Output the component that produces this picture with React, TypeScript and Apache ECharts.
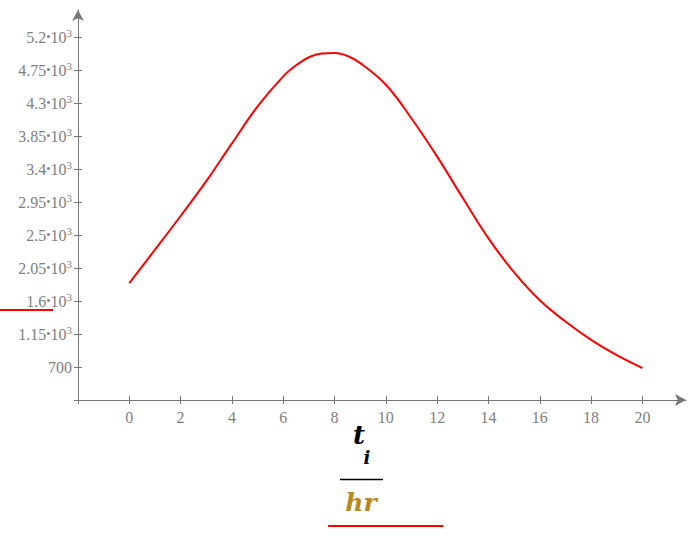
import React, { useEffect, useRef } from "react";
import * as echarts from "echarts";

const tValues = [0, 1, 2, 3, 4, 5, 6, 6.5, 7, 7.5, 8, 8.5, 9, 10, 11, 12, 13, 14, 15, 16, 17, 18, 19, 20];
const yValues = [1845, 2300, 2760, 3235, 3750, 4255, 4665, 4815, 4925, 4975, 4982, 4942, 4845, 4550, 4090, 3570, 3005, 2455, 1990, 1610, 1320, 1070, 862, 686];
const xTickValues = [-2, 0, 2, 4, 6, 8, 10, 12, 14, 16, 18, 20];
const xLabelValues = [0, 2, 4, 6, 8, 10, 12, 14, 16, 18, 20];
const yTickValues = [250, 700, 1150, 1600, 2050, 2500, 2950, 3400, 3850, 4300, 4750, 5200];
const yLabelValues = [700, 1150, 1600, 2050, 2500, 2950, 3400, 3850, 4300, 4750, 5200];

const AXIS = "#777777";
const LABEL = "#808080";
const FONT = "'Liberation Serif', 'Times New Roman', serif";
const TITLE_FONT = "'DejaVu Serif', serif";

function yFormat(v: number): string {
  if (v >= 1000) {
    const m = +(v / 1000).toFixed(3);
    return `{a|${m}}{d|•}{a|10}{s|3}`;
  }
  return `{a|${v}}`;
}

export default function App() {
  const ref = useRef<HTMLDivElement>(null);
  useEffect(() => {
    if (!ref.current) return;
    const chart = echarts.init(ref.current, undefined, { renderer: "svg" });
    const tickCommon = { lineStyle: { color: AXIS, width: 1 }, length: 4 };
    chart.setOption({
      animation: false,
      textStyle: { fontFamily: FONT },
      grid: { left: 78, right: 9, top: 10, bottom: 139, containLabel: false },
      xAxis: [
        {
          type: "value",
          min: -2,
          max: 21.7,
          position: "bottom",
          axisLine: {
            show: true,
            onZero: false,
            lineStyle: { color: AXIS, width: 1 },
            symbol: ["none", "arrow"],
            symbolSize: [9, 11],
          },
          axisTick: { show: true, customValues: xTickValues, ...tickCommon },
          axisLabel: {
            customValues: xLabelValues,
            color: LABEL,
            fontFamily: FONT,
            fontSize: 16,
            margin: 9,
          },
          splitLine: { show: false },
        },
        {
          type: "value",
          min: -2,
          max: 21.7,
          position: "bottom",
          axisLine: { show: false, onZero: false },
          axisTick: { show: true, inside: true, customValues: xTickValues, ...tickCommon },
          axisLabel: { show: false },
          splitLine: { show: false },
        },
      ],
      yAxis: [
        {
          type: "value",
          min: 250,
          max: 5570,
          position: "left",
          axisLine: {
            show: true,
            onZero: false,
            lineStyle: { color: AXIS, width: 1 },
            symbol: ["none", "arrow"],
            symbolSize: [9, 11],
          },
          axisTick: { show: true, customValues: yTickValues, ...tickCommon },
          axisLabel: {
            customValues: yLabelValues,
            formatter: yFormat,
            margin: 6,
            fontFamily: FONT,
            rich: {
              a: { color: LABEL, fontFamily: FONT, fontSize: 16 },
              d: { color: LABEL, fontFamily: FONT, fontSize: 12 },
              s: { color: LABEL, fontFamily: FONT, fontSize: 11, padding: [0, 0, 8, 0] },
            },
          },
          splitLine: { show: false },
        },
        {
          type: "value",
          min: 250,
          max: 5570,
          position: "left",
          axisLine: { show: false, onZero: false },
          axisTick: { show: true, inside: true, customValues: yTickValues, ...tickCommon },
          axisLabel: { show: false },
          splitLine: { show: false },
        },
      ],
      series: [
        {
          type: "line",
          xAxisIndex: 0,
          yAxisIndex: 0,
          data: tValues.map((t, i) => [t, yValues[i]]),
          smooth: 0.4,
          showSymbol: false,
          lineStyle: { color: "#ff0000", width: 2 },
          itemStyle: { color: "#ff0000" },
        },
      ],
      graphic: [
        { type: "line", shape: { x1: 0, y1: 310, x2: 53, y2: 310 }, style: { stroke: "#ff0000", lineWidth: 2 } },
        {
          type: "text",
          x: 359,
          y: 448,
          style: { text: "t", fontFamily: TITLE_FONT, fontStyle: "italic", fontWeight: "bold", fontSize: 26, fill: "#000", align: "center", verticalAlign: "bottom" },
        },
        {
          type: "text",
          x: 367,
          y: 466,
          style: { text: "i", fontFamily: TITLE_FONT, fontStyle: "italic", fontWeight: "bold", fontSize: 18, fill: "#000", align: "center", verticalAlign: "bottom" },
        },
        { type: "line", shape: { x1: 340, y1: 479.5, x2: 383, y2: 479.5 }, style: { stroke: "#000", lineWidth: 1.5 } },
        {
          type: "text",
          x: 361,
          y: 515,
          style: { text: "hr", fontFamily: TITLE_FONT, fontStyle: "italic", fontWeight: "bold", fontSize: 25, fill: "#b5891a", align: "center", verticalAlign: "bottom" },
        },
        { type: "line", shape: { x1: 328, y1: 526, x2: 443, y2: 526 }, style: { stroke: "#ff0000", lineWidth: 2 } },
      ],
    });
    return () => chart.dispose();
  }, []);
  return <div ref={ref} style={{ width: 695, height: 539, position: "absolute", left: 0, top: 0 }} />;
}
